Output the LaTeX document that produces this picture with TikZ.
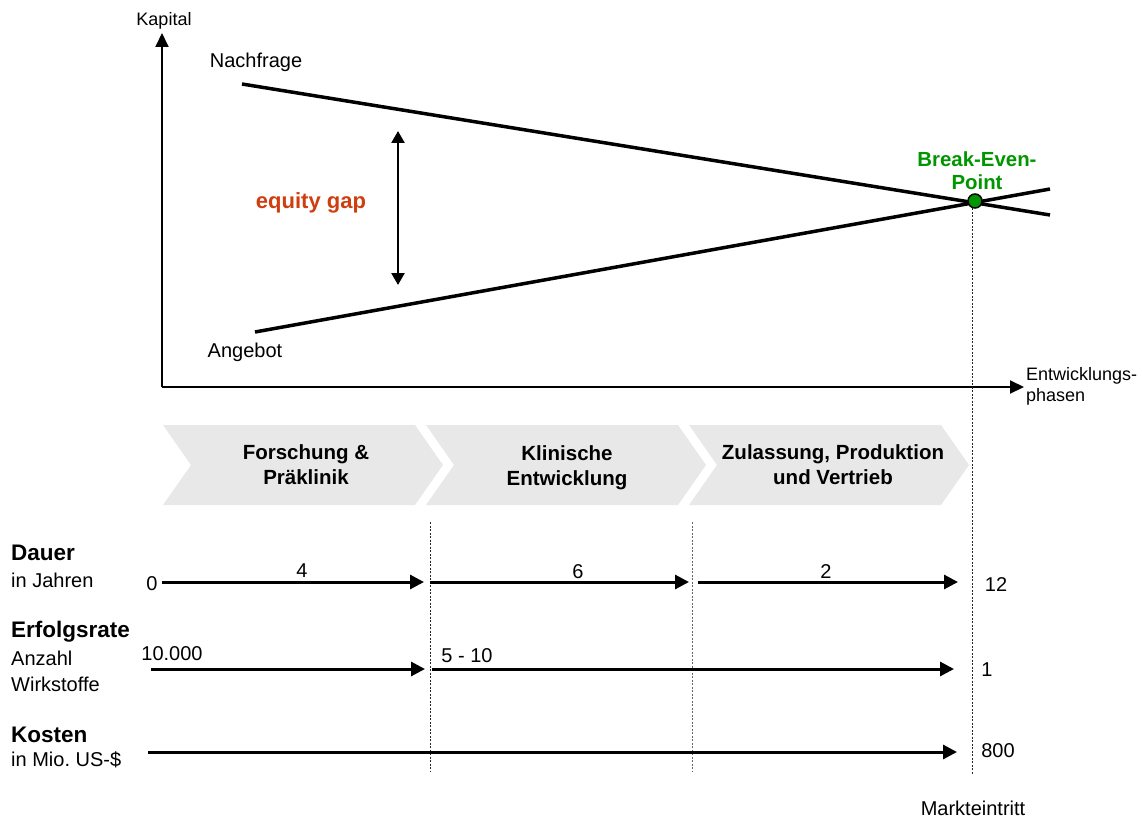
\documentclass[tikz,border=0pt]{standalone}
\usepackage{fontspec}
\setmainfont{Liberation Sans}
\usetikzlibrary{arrows.meta}
\definecolor{gapred}{RGB}{206,62,14}
\definecolor{begreen}{RGB}{0,150,0}
\definecolor{chevgray}{RGB}{232,232,232}
\frenchspacing
\begin{document}
\begin{tikzpicture}[x=1pt,y=-1pt,
  txt/.style={font=\fontsize{20}{24}\selectfont, inner sep=0pt},
  smalltxt/.style={font=\fontsize{18}{21}\selectfont, inner sep=0pt},
  boldtxt/.style={font=\fontsize{22.5}{26}\selectfont\bfseries, inner sep=0pt},
  chevtxt/.style={font=\fontsize{20.5}{25}\selectfont\bfseries, inner sep=0pt, align=center},
  curve/.style={line width=3.5pt},
  axis/.style={line width=2pt, -{Triangle[length=14pt,width=13pt]}},
  rowarrow/.style={line width=3pt, -{Triangle[length=14pt,width=14pt]}},
  gaparrow/.style={line width=2.5pt, {Triangle[length=12pt,width=13pt]}-{Triangle[length=12pt,width=13pt]}},
  marker/.style={line width=1pt, dash pattern=on 2pt off 1.5pt, black!85},
  chevron/.style={fill=chevgray, draw=none}
]
\useasboundingbox (0,0) rectangle (1142,821);

% axes
\coordinate (origin) at (162,387);
\coordinate (ytop) at (162,33);
\coordinate (xend) at (1024,387);
\draw[axis] (origin) -- (ytop);
\draw[axis] (origin) -- (xend);
\node[smalltxt] (kapital) at (164,21) {Kapital};
\node[smalltxt, anchor=west, align=left] (entw) at (1026,386) {Entwicklungs-\\phasen};

% curves
\coordinate (nA) at (242,84);
\coordinate (nB) at (1050,215);
\coordinate (aA) at (255,332);
\coordinate (aB) at (1050,189);
\draw[curve] (nA) -- (nB);
\draw[curve] (aA) -- (aB);
\node[txt] (nachfrage) at (256,62) {Nachfrage};
\node[txt] (angebot) at (245,352) {Angebot};

% equity gap
\coordinate (gapTop) at (398,131);
\coordinate (gapBot) at (398,285);
\draw[gaparrow] (gapTop) -- (gapBot);
\node[font=\fontsize{22}{26}\selectfont\bfseries, text=gapred, inner sep=0pt] (gap) at (311,203) {equity gap};

% break-even point
\node[font=\fontsize{20.4}{23}\selectfont\bfseries, text=begreen, align=center, inner sep=0pt] (betxt) at (977,171) {Break-Even-\\Point};

% market entry line
\coordinate (mTop) at (972,208);
\coordinate (mBot) at (972,775);
\draw[marker] (mTop) -- (mBot);
\node[circle, fill=begreen, draw=black, line width=1.5pt, minimum size=14pt, inner sep=0pt] (bep) at (975,201) {};

% phase dividers
\coordinate (d1Top) at (430,522);
\coordinate (d1Bot) at (430,771);
\coordinate (d2Top) at (692,522);
\coordinate (d2Bot) at (692,771);
\draw[marker] (d1Top) -- (d1Bot);
\draw[marker, black!60] (d2Top) -- (d2Bot);

% chevrons
\fill[chevron] (163,425) -- (415,425) -- (443,465) -- (415,505) -- (163,505) -- (191,465) -- cycle;
\fill[chevron] (426,425) -- (678,425) -- (706,465) -- (678,505) -- (426,505) -- (454,465) -- cycle;
\fill[chevron] (689,425) -- (941,425) -- (969,465) -- (941,505) -- (689,505) -- (717,465) -- cycle;
\node[chevtxt] (ph1) at (306,465) {Forschung \&\\Präklinik};
\node[chevtxt] (ph2) at (567,468) {Klinische\\Entwicklung};
\node[chevtxt] (ph3) at (833,465) {Zulassung, Produktion\\und Vertrieb};

% row: Dauer
\node[boldtxt, anchor=west] (dauer) at (11,553) {Dauer};
\node[txt, anchor=west] (dauer2) at (11,580) {in Jahren};
\node[txt] (d0) at (152,584) {0};
\coordinate (r1a) at (162,582);
\coordinate (r1b) at (424,582);
\coordinate (r1c) at (430,582);
\coordinate (r1d) at (689,582);
\coordinate (r1e) at (698,582);
\coordinate (r1f) at (958,582);
\draw[rowarrow] (r1a) -- (r1b);
\draw[rowarrow] (r1c) -- (r1d);
\draw[rowarrow] (r1e) -- (r1f);
\node[txt] (l4) at (302,571) {4};
\node[txt] (l6) at (578,572) {6};
\node[txt] (l2) at (826,572) {2};
\node[txt] (l12) at (996,585) {12};

% row: Erfolgsrate
\node[boldtxt, anchor=west] (erfolg) at (11,632) {Erfolgsrate};
\node[txt, anchor=west] (erfolg2) at (11,658) {Anzahl};
\node[txt, anchor=west] (erfolg3) at (11,684) {Wirkstoffe};
\coordinate (r2a) at (151,669);
\coordinate (r2b) at (425,669);
\coordinate (r2c) at (432,669);
\coordinate (r2d) at (954,669);
\draw[rowarrow] (r2a) -- (r2b);
\draw[rowarrow] (r2c) -- (r2d);
\node[txt] (l10000) at (172,654) {10.000};
\node[txt] (l510) at (467,656) {5 - 10};
\node[txt] (l1) at (987,670) {1};

% row: Kosten
\node[boldtxt, anchor=west] (kosten) at (11,735) {Kosten};
\node[txt, anchor=west] (kosten2) at (11,760) {in Mio. US-\$};
\coordinate (r3a) at (148,752);
\coordinate (r3b) at (957,752);
\draw[rowarrow] (r3a) -- (r3b);
\node[txt] (l800) at (998,751) {800};

\node[txt] (markt) at (973,808) {Markteintritt};
\end{tikzpicture}
\end{document}
